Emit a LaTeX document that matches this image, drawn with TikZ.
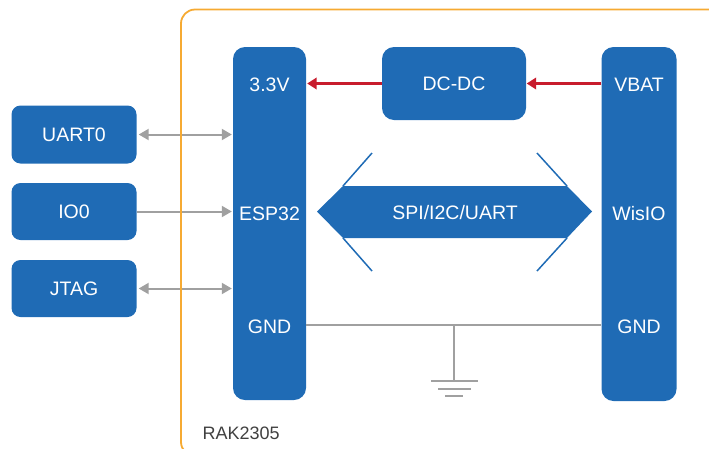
\documentclass[tikz,border=0pt]{standalone}
\usepackage{fontspec}
\setmainfont{Liberation Sans}
\usetikzlibrary{arrows.meta}
\definecolor{rakBlue}{RGB}{31, 107, 181}
\definecolor{rakOrange}{RGB}{246, 170, 50}
\definecolor{rakRed}{RGB}{200, 28, 45}
\definecolor{rakGray}{RGB}{160, 160, 160}
\definecolor{rakText}{RGB}{64, 64, 64}

\begin{document}
\begin{tikzpicture}[x=1pt, y=-1pt,
    blk/.style={fill=rakBlue, rounded corners=12pt, inner sep=0pt},
    lbl/.style={text=white, inner sep=0pt, font=\fontsize{19.5}{20}\selectfont},
    gline/.style={rakGray, line width=2pt},
    garrow/.style={gline, -{Triangle[length=10pt, width=11pt]}},
    gboth/.style={gline, {Triangle[length=10pt, width=11pt]}-{Triangle[length=10pt, width=11pt]}},
    rarrow/.style={rakRed, line width=2.1pt, -{Triangle[length=9.5pt, width=11.5pt]}}]
      \useasboundingbox (0,0) rectangle (709,448);
      \clip (0,0) rectangle (709,448);

      % Bars
      \node[blk, minimum width=73pt, minimum height=353pt] (esp) at (269.5,223.5) {};
      \node[blk, minimum width=75pt, minimum height=354pt] (wis) at (639,224) {};
      \node[blk, minimum width=144pt, minimum height=73pt] (dcdc) at (454,83.5) {};
      \node[lbl] (dcdclbl) at (dcdc) {DC-DC};

      \node[lbl] (esp33) at (269.5,84.5) {3.3V};
      \node[lbl] (espio) at (269.5,213.5) {ESP32};
      \node[lbl] (espgnd) at (269.5,326.5) {GND};
      \node[lbl] (wisbat) at (639,84.5) {VBAT};
      \node[lbl] (wisio) at (639,213.5) {WisIO};
      \node[lbl] (wisgnd) at (639,326.5) {GND};

      % External ports
      \node[blk, rounded corners=9pt, minimum width=125pt, minimum height=58pt] (uart) at (74,134.5) {};
      \node[blk, rounded corners=9pt, minimum width=125pt, minimum height=57pt] (io) at (74,211.5) {};
      \node[blk, rounded corners=9pt, minimum width=125pt, minimum height=57pt] (jtag) at (74,288.5) {};
      \node[lbl] (uartlbl) at (uart) {UART0};
      \node[lbl] (iolbl) at (io) {IO0};
      \node[lbl] (jtaglbl) at (jtag) {JTAG};

      \draw[gboth, shorten <=2pt, shorten >=1pt] (uart.east) -- (uart.east -| esp.west);
      \draw[garrow, shorten >=1pt] (io.east) -- (io.east -| esp.west);
      \draw[gboth, shorten <=2pt, shorten >=1pt] (jtag.east) -- (jtag.east -| esp.west);

      % Power path
      \draw[rarrow, shorten >=1pt] (dcdc.west) -- (dcdc.west -| esp.east);
      \draw[rarrow, shorten >=0.5pt] (dcdc.east -| wis.west) -- (dcdc.east);

      % Bus between ESP32 and WisIO
      \fill[rakBlue] (317,211.5) -- (343,186) -- (567,186) -- (592,211.5) -- (567,238) -- (343,238) -- cycle;
      \draw[rakBlue, line width=1.5pt] (372,153) -- (343,186);
      \draw[rakBlue, line width=1.5pt] (372,271) -- (343,238);
      \draw[rakBlue, line width=1.5pt] (537,153) -- (567,186);
      \draw[rakBlue, line width=1.5pt] (537,271) -- (567,238);
      \node[lbl] (bus) at (455,213) {SPI/I2C/UART};

      % Ground
      \coordinate (gtap) at (454,325);
      \coordinate (gnd) at (454,381);
      \draw[gline] (esp.east |- gtap) -- (wis.west |- gtap);
      \draw[gline] (gtap) -- (gnd);
      \draw[gline] ([xshift=-23pt]gnd) -- ([xshift=24pt]gnd);
      \draw[gline] ([xshift=-16pt, yshift=-7.5pt]gnd) -- ([xshift=17pt, yshift=-7.5pt]gnd);
      \draw[gline] ([xshift=-9pt, yshift=-15pt]gnd) -- ([xshift=9pt, yshift=-15pt]gnd);

      % Module outline
      \draw[rakOrange, line width=1.8pt, rounded corners=14pt] (181,9.5) rectangle (740,456);
      \node[text=rakText, anchor=base west, inner sep=0pt,
        font=\fontsize{18}{18}\selectfont] (rak) at (202.5,439) {RAK2305};
    \end{tikzpicture}
\end{document}
